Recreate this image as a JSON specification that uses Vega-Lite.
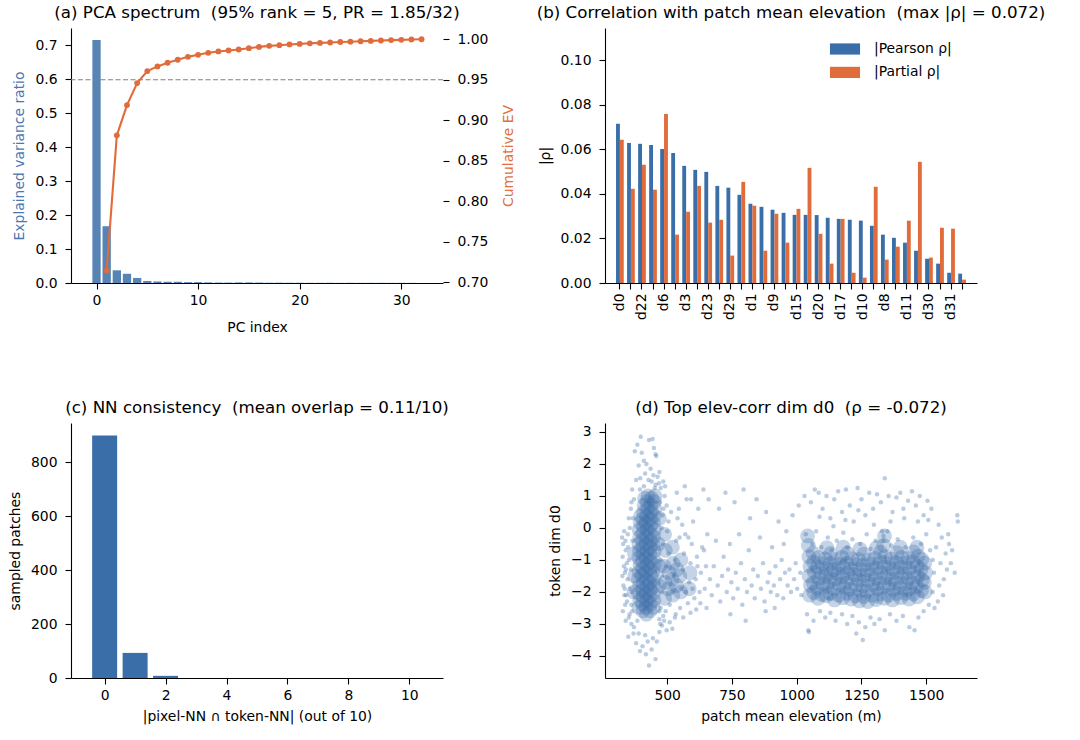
{
  "$schema": "https://vega.github.io/schema/vega-lite/v6.json",
  "background": "white",
  "padding": {"left": 8, "top": 5, "right": 5, "bottom": 5},
  "config": {
    "font": "DejaVu Sans",
    "view": {"stroke": null},
    "axis": {"domainColor": "#000", "domainWidth": 1.1, "tickColor": "#000", "tickWidth": 1.1, "tickSize": 6, "labelPadding": 4, "labelFont": "DejaVu Sans", "labelFontSize": 13.9, "labelColor": "#000", "titleFont": "DejaVu Sans", "titleFontSize": 13.9, "titleFontWeight": "normal", "titleColor": "#000", "grid": false, "titlePadding": 8, "labelFlush": false, "labelOverlap": false},
    "axisY": {"labelPadding": 8},
    "title": {"font": "DejaVu Sans", "fontSize": 16.7, "fontWeight": "normal", "color": "#000", "anchor": "middle", "frame": "group", "baseline": "alphabetic", "offset": 6},
    "legend": {"labelFont": "DejaVu Sans", "labelFontSize": 13.9, "labelColor": "#000"}
  },
  "datasets": {
    "pca_evr": [
      {"pc": 0, "evr": 0.7146}, {"pc": 1, "evr": 0.167}, {"pc": 2, "evr": 0.0373}, {"pc": 3, "evr": 0.0271},
      {"pc": 4, "evr": 0.0148}, {"pc": 5, "evr": 0.0058}, {"pc": 6, "evr": 0.0045}, {"pc": 7, "evr": 0.0037},
      {"pc": 8, "evr": 0.0036}, {"pc": 9, "evr": 0.0025}, {"pc": 10, "evr": 0.0025}, {"pc": 11, "evr": 0.0017},
      {"pc": 12, "evr": 0.0012}, {"pc": 13, "evr": 0.0012}, {"pc": 14, "evr": 0.0016}, {"pc": 15, "evr": 0.0016},
      {"pc": 16, "evr": 0.0013}, {"pc": 17, "evr": 0.0008}, {"pc": 18, "evr": 0.0009}, {"pc": 19, "evr": 0.0007},
      {"pc": 20, "evr": 0.0007}, {"pc": 21, "evr": 0.0005}, {"pc": 22, "evr": 0.0005}, {"pc": 23, "evr": 0.0006},
      {"pc": 24, "evr": 0.0004}, {"pc": 25, "evr": 0.0006}, {"pc": 26, "evr": 0.0004}, {"pc": 27, "evr": 0.0005},
      {"pc": 28, "evr": 0.0005}, {"pc": 29, "evr": 0.0003}, {"pc": 30, "evr": 0.0004}, {"pc": 31, "evr": 0.0003}
    ],
    "pca_cum": [
      {"pc": 1, "cum": 0.7146}, {"pc": 2, "cum": 0.8815}, {"pc": 3, "cum": 0.9188}, {"pc": 4, "cum": 0.9459},
      {"pc": 5, "cum": 0.9607}, {"pc": 6, "cum": 0.9665}, {"pc": 7, "cum": 0.971}, {"pc": 8, "cum": 0.9747},
      {"pc": 9, "cum": 0.9783}, {"pc": 10, "cum": 0.9808}, {"pc": 11, "cum": 0.9833}, {"pc": 12, "cum": 0.985},
      {"pc": 13, "cum": 0.9862}, {"pc": 14, "cum": 0.9874}, {"pc": 15, "cum": 0.989}, {"pc": 16, "cum": 0.9906},
      {"pc": 17, "cum": 0.9919}, {"pc": 18, "cum": 0.9927}, {"pc": 19, "cum": 0.9936}, {"pc": 20, "cum": 0.9943},
      {"pc": 21, "cum": 0.995}, {"pc": 22, "cum": 0.9955}, {"pc": 23, "cum": 0.996}, {"pc": 24, "cum": 0.9966},
      {"pc": 25, "cum": 0.997}, {"pc": 26, "cum": 0.9976}, {"pc": 27, "cum": 0.998}, {"pc": 28, "cum": 0.9985},
      {"pc": 29, "cum": 0.999}, {"pc": 30, "cum": 0.9993}, {"pc": 31, "cum": 0.9997}, {"pc": 32, "cum": 1.0}
    ],
    "corr": [
      {"dim": "d0", "kind": "|Pearson ρ|", "rho": 0.0715}, {"dim": "d0", "kind": "|Partial ρ|", "rho": 0.0643},
      {"dim": "d2", "kind": "|Pearson ρ|", "rho": 0.0629}, {"dim": "d2", "kind": "|Partial ρ|", "rho": 0.0423},
      {"dim": "d22", "kind": "|Pearson ρ|", "rho": 0.0625}, {"dim": "d22", "kind": "|Partial ρ|", "rho": 0.0531},
      {"dim": "d4", "kind": "|Pearson ρ|", "rho": 0.062}, {"dim": "d4", "kind": "|Partial ρ|", "rho": 0.0419},
      {"dim": "d6", "kind": "|Pearson ρ|", "rho": 0.0602}, {"dim": "d6", "kind": "|Partial ρ|", "rho": 0.0759},
      {"dim": "d5", "kind": "|Pearson ρ|", "rho": 0.0584}, {"dim": "d5", "kind": "|Partial ρ|", "rho": 0.0217},
      {"dim": "d3", "kind": "|Pearson ρ|", "rho": 0.0526}, {"dim": "d3", "kind": "|Partial ρ|", "rho": 0.032},
      {"dim": "d7", "kind": "|Pearson ρ|", "rho": 0.0508}, {"dim": "d7", "kind": "|Partial ρ|", "rho": 0.0436},
      {"dim": "d23", "kind": "|Pearson ρ|", "rho": 0.0499}, {"dim": "d23", "kind": "|Partial ρ|", "rho": 0.0271},
      {"dim": "d12", "kind": "|Pearson ρ|", "rho": 0.0436}, {"dim": "d12", "kind": "|Partial ρ|", "rho": 0.0284},
      {"dim": "d29", "kind": "|Pearson ρ|", "rho": 0.0428}, {"dim": "d29", "kind": "|Partial ρ|", "rho": 0.0123},
      {"dim": "d13", "kind": "|Pearson ρ|", "rho": 0.0396}, {"dim": "d13", "kind": "|Partial ρ|", "rho": 0.0454},
      {"dim": "d1", "kind": "|Pearson ρ|", "rho": 0.0356}, {"dim": "d1", "kind": "|Partial ρ|", "rho": 0.0347},
      {"dim": "d14", "kind": "|Pearson ρ|", "rho": 0.0342}, {"dim": "d14", "kind": "|Partial ρ|", "rho": 0.0145},
      {"dim": "d9", "kind": "|Pearson ρ|", "rho": 0.0329}, {"dim": "d9", "kind": "|Partial ρ|", "rho": 0.0311},
      {"dim": "d16", "kind": "|Pearson ρ|", "rho": 0.0315}, {"dim": "d16", "kind": "|Partial ρ|", "rho": 0.0181},
      {"dim": "d15", "kind": "|Pearson ρ|", "rho": 0.0306}, {"dim": "d15", "kind": "|Partial ρ|", "rho": 0.0333},
      {"dim": "d18", "kind": "|Pearson ρ|", "rho": 0.0306}, {"dim": "d18", "kind": "|Partial ρ|", "rho": 0.0517},
      {"dim": "d20", "kind": "|Pearson ρ|", "rho": 0.0305}, {"dim": "d20", "kind": "|Partial ρ|", "rho": 0.0221},
      {"dim": "d19", "kind": "|Pearson ρ|", "rho": 0.0293}, {"dim": "d19", "kind": "|Partial ρ|", "rho": 0.0087},
      {"dim": "d17", "kind": "|Pearson ρ|", "rho": 0.0288}, {"dim": "d17", "kind": "|Partial ρ|", "rho": 0.0288},
      {"dim": "d21", "kind": "|Pearson ρ|", "rho": 0.0284}, {"dim": "d21", "kind": "|Partial ρ|", "rho": 0.0046},
      {"dim": "d10", "kind": "|Pearson ρ|", "rho": 0.028}, {"dim": "d10", "kind": "|Partial ρ|", "rho": 0.0024},
      {"dim": "d24", "kind": "|Pearson ρ|", "rho": 0.0257}, {"dim": "d24", "kind": "|Partial ρ|", "rho": 0.0432},
      {"dim": "d8", "kind": "|Pearson ρ|", "rho": 0.0217}, {"dim": "d8", "kind": "|Partial ρ|", "rho": 0.0105},
      {"dim": "d25", "kind": "|Pearson ρ|", "rho": 0.0203}, {"dim": "d25", "kind": "|Partial ρ|", "rho": 0.0163},
      {"dim": "d11", "kind": "|Pearson ρ|", "rho": 0.0181}, {"dim": "d11", "kind": "|Partial ρ|", "rho": 0.028},
      {"dim": "d26", "kind": "|Pearson ρ|", "rho": 0.0145}, {"dim": "d26", "kind": "|Partial ρ|", "rho": 0.0544},
      {"dim": "d30", "kind": "|Pearson ρ|", "rho": 0.0109}, {"dim": "d30", "kind": "|Partial ρ|", "rho": 0.0114},
      {"dim": "d27", "kind": "|Pearson ρ|", "rho": 0.0087}, {"dim": "d27", "kind": "|Partial ρ|", "rho": 0.0248},
      {"dim": "d31", "kind": "|Pearson ρ|", "rho": 0.0046}, {"dim": "d31", "kind": "|Partial ρ|", "rho": 0.0244},
      {"dim": "d28", "kind": "|Pearson ρ|", "rho": 0.0042}, {"dim": "d28", "kind": "|Partial ρ|", "rho": 0.0015}
    ],
    "nn": [
      {"k": 0, "n": 899}, {"k": 1, "n": 93}, {"k": 2, "n": 8}, {"k": 3, "n": 0}, {"k": 4, "n": 0}, {"k": 5, "n": 0},
      {"k": 6, "n": 0}, {"k": 7, "n": 0}, {"k": 8, "n": 0}, {"k": 9, "n": 0}, {"k": 10, "n": 0}
    ],
    "elev_dense": [
      {"elev":391,"d0":-2.48},{"elev":394,"d0":-2.26},{"elev":390,"d0":-2.04},{"elev":393,"d0":-1.82},{"elev":389,"d0":-1.6},{"elev":392,"d0":-1.38},{"elev":395,"d0":-1.16},{"elev":390,"d0":-0.94},{"elev":393,"d0":-0.72},{"elev":391,"d0":-0.5},{"elev":394,"d0":-0.28},{"elev":392,"d0":-0.06},{"elev":396,"d0":0.16},{"elev":398,"d0":0.38},
      {"elev":420,"d0":-2.7},{"elev":418,"d0":-2.48},{"elev":421,"d0":-2.26},{"elev":419,"d0":-2.04},{"elev":422,"d0":-1.82},{"elev":420,"d0":-1.6},{"elev":417,"d0":-1.38},{"elev":421,"d0":-1.16},{"elev":419,"d0":-0.94},{"elev":422,"d0":-0.72},{"elev":418,"d0":-0.5},{"elev":420,"d0":-0.28},{"elev":423,"d0":-0.06},{"elev":419,"d0":0.16},{"elev":421,"d0":0.38},{"elev":424,"d0":0.6},{"elev":422,"d0":0.82},{"elev":426,"d0":1.0},
      {"elev":447,"d0":-2.48},{"elev":449,"d0":-2.26},{"elev":446,"d0":-2.04},{"elev":450,"d0":-1.82},{"elev":448,"d0":-1.6},{"elev":445,"d0":-1.38},{"elev":449,"d0":-1.16},{"elev":447,"d0":-0.94},{"elev":450,"d0":-0.72},{"elev":446,"d0":-0.5},{"elev":448,"d0":-0.28},{"elev":451,"d0":-0.06},{"elev":447,"d0":0.16},{"elev":449,"d0":0.38},{"elev":452,"d0":0.6},{"elev":450,"d0":0.82},{"elev":453,"d0":1.0},
      {"elev":406,"d0":-2.59},{"elev":404,"d0":-2.37},{"elev":407,"d0":-2.15},{"elev":405,"d0":-1.93},{"elev":408,"d0":-1.71},{"elev":403,"d0":-1.49},{"elev":406,"d0":-1.27},{"elev":404,"d0":-1.05},{"elev":407,"d0":-0.83},{"elev":405,"d0":-0.61},{"elev":403,"d0":-0.39},{"elev":406,"d0":-0.17},{"elev":408,"d0":0.05},{"elev":405,"d0":0.27},{"elev":409,"d0":0.49},{"elev":411,"d0":0.71},{"elev":413,"d0":0.93},
      {"elev":434,"d0":-2.59},{"elev":436,"d0":-2.37},{"elev":433,"d0":-2.15},{"elev":435,"d0":-1.93},{"elev":432,"d0":-1.71},{"elev":437,"d0":-1.49},{"elev":434,"d0":-1.27},{"elev":436,"d0":-1.05},{"elev":433,"d0":-0.83},{"elev":435,"d0":-0.61},{"elev":437,"d0":-0.39},{"elev":434,"d0":-0.17},{"elev":436,"d0":0.05},{"elev":435,"d0":0.27},{"elev":438,"d0":0.49},{"elev":437,"d0":0.71},{"elev":440,"d0":0.93},
      {"elev":372,"d0":-2.0},{"elev":375,"d0":-1.5},{"elev":374,"d0":-0.8},{"elev":468,"d0":-1.8},{"elev":470,"d0":-1.2},{"elev":466,"d0":-0.5},{"elev":470,"d0":0.3},
      {"elev":490,"d0":-2.2},{"elev":492,"d0":-1.7},{"elev":489,"d0":-1.2},{"elev":493,"d0":-0.7},{"elev":490,"d0":-0.2},
      {"elev":522,"d0":-2.1},{"elev":519,"d0":-1.6},{"elev":523,"d0":-1.1},{"elev":520,"d0":-0.6},
      {"elev":552,"d0":-2.0},{"elev":549,"d0":-1.5},{"elev":553,"d0":-1.0},
      {"elev":585,"d0":-1.9},{"elev":588,"d0":-1.4},{"elev":505,"d0":-1.9},{"elev":507,"d0":-1.4},{"elev":536,"d0":-1.8},{"elev":538,"d0":-1.3},
      {"elev":1050,"d0":-2.1},{"elev":1053,"d0":-1.8},{"elev":1048,"d0":-1.5},{"elev":1051,"d0":-1.2},{"elev":1047,"d0":-0.9},{"elev":1045,"d0":-0.55},{"elev":1042,"d0":-0.25},
      {"elev":1082,"d0":-2.2},{"elev":1079,"d0":-1.88},{"elev":1084,"d0":-1.57},{"elev":1080,"d0":-1.22},{"elev":1083,"d0":-0.93},
      {"elev":1114,"d0":-2.12},{"elev":1117,"d0":-1.83},{"elev":1112,"d0":-1.52},{"elev":1115,"d0":-1.27},{"elev":1111,"d0":-0.97},{"elev":1116,"d0":-0.62},
      {"elev":1146,"d0":-2.25},{"elev":1143,"d0":-1.9},{"elev":1148,"d0":-1.6},{"elev":1145,"d0":-1.3},{"elev":1149,"d0":-0.98},
      {"elev":1178,"d0":-2.18},{"elev":1181,"d0":-1.86},{"elev":1176,"d0":-1.53},{"elev":1179,"d0":-1.24},{"elev":1175,"d0":-0.92},{"elev":1180,"d0":-0.6},
      {"elev":1210,"d0":-2.22},{"elev":1207,"d0":-1.92},{"elev":1212,"d0":-1.58},{"elev":1209,"d0":-1.28},{"elev":1213,"d0":-0.96},
      {"elev":1242,"d0":-2.28},{"elev":1245,"d0":-1.95},{"elev":1240,"d0":-1.62},{"elev":1243,"d0":-1.3},{"elev":1239,"d0":-0.99},{"elev":1244,"d0":-0.66},
      {"elev":1274,"d0":-2.3},{"elev":1271,"d0":-1.97},{"elev":1276,"d0":-1.64},{"elev":1273,"d0":-1.32},{"elev":1277,"d0":-1.0},
      {"elev":1306,"d0":-2.24},{"elev":1309,"d0":-1.9},{"elev":1304,"d0":-1.58},{"elev":1307,"d0":-1.26},{"elev":1303,"d0":-0.95},{"elev":1308,"d0":-0.62},
      {"elev":1338,"d0":-2.2},{"elev":1335,"d0":-1.86},{"elev":1340,"d0":-1.55},{"elev":1337,"d0":-1.22},{"elev":1341,"d0":-0.9},{"elev":1336,"d0":-0.55},{"elev":1339,"d0":-0.25},
      {"elev":1370,"d0":-2.25},{"elev":1373,"d0":-1.92},{"elev":1368,"d0":-1.6},{"elev":1371,"d0":-1.28},{"elev":1367,"d0":-0.97},
      {"elev":1402,"d0":-2.18},{"elev":1399,"d0":-1.87},{"elev":1404,"d0":-1.54},{"elev":1401,"d0":-1.23},{"elev":1405,"d0":-0.92},{"elev":1400,"d0":-0.6},
      {"elev":1434,"d0":-2.22},{"elev":1437,"d0":-1.9},{"elev":1432,"d0":-1.58},{"elev":1435,"d0":-1.26},{"elev":1431,"d0":-0.95},
      {"elev":1466,"d0":-2.15},{"elev":1463,"d0":-1.84},{"elev":1468,"d0":-1.52},{"elev":1465,"d0":-1.2},{"elev":1469,"d0":-0.88},{"elev":1464,"d0":-0.6},
      {"elev":1496,"d0":-2.0},{"elev":1493,"d0":-1.7},{"elev":1497,"d0":-1.4},{"elev":1494,"d0":-1.1},
      {"elev":1066,"d0":-2.02},{"elev":1064,"d0":-1.71},{"elev":1068,"d0":-1.38},{"elev":1065,"d0":-1.07},{"elev":1063,"d0":-0.78},
      {"elev":1098,"d0":-2.08},{"elev":1101,"d0":-1.74},{"elev":1096,"d0":-1.42},{"elev":1099,"d0":-1.12},
      {"elev":1130,"d0":-2.05},{"elev":1128,"d0":-1.69},{"elev":1132,"d0":-1.4},{"elev":1129,"d0":-1.1},{"elev":1131,"d0":-0.8},
      {"elev":1162,"d0":-2.1},{"elev":1165,"d0":-1.76},{"elev":1160,"d0":-1.44},{"elev":1163,"d0":-1.14},
      {"elev":1194,"d0":-2.04},{"elev":1192,"d0":-1.72},{"elev":1196,"d0":-1.41},{"elev":1193,"d0":-1.1},{"elev":1195,"d0":-0.79},
      {"elev":1226,"d0":-2.12},{"elev":1229,"d0":-1.78},{"elev":1224,"d0":-1.46},{"elev":1227,"d0":-1.15},
      {"elev":1258,"d0":-2.14},{"elev":1256,"d0":-1.8},{"elev":1260,"d0":-1.48},{"elev":1257,"d0":-1.16},{"elev":1259,"d0":-0.82},
      {"elev":1290,"d0":-2.1},{"elev":1293,"d0":-1.77},{"elev":1288,"d0":-1.45},{"elev":1291,"d0":-1.13},
      {"elev":1322,"d0":-2.06},{"elev":1320,"d0":-1.73},{"elev":1324,"d0":-1.4},{"elev":1321,"d0":-1.08},{"elev":1323,"d0":-0.76},
      {"elev":1354,"d0":-2.1},{"elev":1357,"d0":-1.76},{"elev":1352,"d0":-1.43},{"elev":1355,"d0":-1.12},
      {"elev":1386,"d0":-2.05},{"elev":1384,"d0":-1.72},{"elev":1388,"d0":-1.39},{"elev":1385,"d0":-1.08},{"elev":1387,"d0":-0.77},
      {"elev":1418,"d0":-2.04},{"elev":1421,"d0":-1.74},{"elev":1416,"d0":-1.42},{"elev":1419,"d0":-1.1},
      {"elev":1450,"d0":-2.06},{"elev":1448,"d0":-1.72},{"elev":1452,"d0":-1.4},{"elev":1449,"d0":-1.06},{"elev":1451,"d0":-0.75},
      {"elev":1482,"d0":-1.95},{"elev":1485,"d0":-1.62},{"elev":1480,"d0":-1.3},{"elev":1483,"d0":-0.98}
    ],
    "elev_sparse": [
      {"elev":398,"d0":2.85},{"elev":430,"d0":2.75},{"elev":444,"d0":2.78},{"elev":385,"d0":2.6},{"elev":449,"d0":2.5},{"elev":455,"d0":2.3},{"elev":458,"d0":2.25},{"elev":402,"d0":2.35},{"elev":410,"d0":2.1},{"elev":375,"d0":2.4},{"elev":390,"d0":1.95},{"elev":420,"d0":2.0},{"elev":436,"d0":1.85},{"elev":470,"d0":1.75},{"elev":463,"d0":1.6},{"elev":415,"d0":1.7},{"elev":380,"d0":1.5},{"elev":396,"d0":1.55},{"elev":447,"d0":1.65},{"elev":485,"d0":1.45},{"elev":492,"d0":1.3},{"elev":365,"d0":1.2},{"elev":372,"d0":0.9},{"elev":360,"d0":0.6},{"elev":352,"d0":0.3},{"elev":490,"d0":1.0},{"elev":498,"d0":0.7},{"elev":482,"d0":0.4},{"elev":505,"d0":0.2},{"elev":475,"d0":1.25},{"elev":468,"d0":1.4},{"elev":440,"d0":1.45},{"elev":428,"d0":1.5},{"elev":455,"d0":1.35},
      {"elev":430,"d0":-4.3},{"elev":455,"d0":-4.1},{"elev":418,"d0":-3.95},{"elev":395,"d0":-3.85},{"elev":440,"d0":-3.8},{"elev":405,"d0":-3.7},{"elev":380,"d0":-3.6},{"elev":460,"d0":-3.55},{"elev":350,"d0":-3.4},{"elev":370,"d0":-3.3},{"elev":445,"d0":-3.45},{"elev":425,"d0":-3.55},{"elev":415,"d0":-3.35},{"elev":470,"d0":-3.25},{"elev":390,"d0":-3.3},{"elev":480,"d0":-3.05},{"elev":498,"d0":-3.2},{"elev":520,"d0":-3.15},{"elev":510,"d0":-2.95},{"elev":362,"d0":-3.0},{"elev":340,"d0":-2.9},{"elev":355,"d0":-2.7},{"elev":485,"d0":-2.75},{"elev":470,"d0":-2.85},{"elev":530,"d0":-2.8},
      {"elev":326,"d0":-0.3},{"elev":330,"d0":-0.5},{"elev":328,"d0":-0.9},{"elev":333,"d0":-1.2},{"elev":327,"d0":-1.5},{"elev":331,"d0":-1.8},{"elev":335,"d0":-2.1},{"elev":338,"d0":-2.4},{"elev":329,"d0":-2.6},{"elev":334,"d0":-0.1},{"elev":340,"d0":-0.7},{"elev":337,"d0":-1.4},{"elev":345,"d0":-2.3},{"elev":352,"d0":-2.8},{"elev":348,"d0":-0.2},{"elev":356,"d0":0.0},{"elev":352,"d0":-1.0},{"elev":358,"d0":-1.9},{"elev":362,"d0":-2.4},{"elev":366,"d0":-0.4},{"elev":360,"d0":-1.3},{"elev":364,"d0":-2.0},{"elev":368,"d0":0.3},
      {"elev":342,"d0":-2.1},{"elev":347,"d0":-1.6},{"elev":344,"d0":-1.1},{"elev":349,"d0":-0.6},{"elev":336,"d0":-1.9},{"elev":341,"d0":-1.3},{"elev":339,"d0":-0.4},
      {"elev":475,"d0":-2.5},{"elev":478,"d0":-2.0},{"elev":480,"d0":-1.5},{"elev":476,"d0":-1.0},{"elev":483,"d0":-0.5},{"elev":479,"d0":0.0},{"elev":486,"d0":0.6},{"elev":472,"d0":0.8},{"elev":494,"d0":-2.6},{"elev":496,"d0":-1.2},{"elev":500,"d0":-0.1},{"elev":473,"d0":-3.0},{"elev":488,"d0":-2.9},
      {"elev":385,"d0":-2.9},{"elev":395,"d0":1.2},{"elev":410,"d0":1.3},{"elev":452,"d0":1.25},{"elev":365,"d0":-2.6},{"elev":470,"d0":-2.6},{"elev":362,"d0":0.8},{"elev":372,"d0":-3.1},
      {"elev":510,"d0":-2.4},{"elev":520,"d0":-2.0},{"elev":525,"d0":-1.5},{"elev":530,"d0":-1.0},{"elev":535,"d0":-0.4},{"elev":540,"d0":0.3},{"elev":545,"d0":0.6},{"elev":550,"d0":-2.5},{"elev":555,"d0":-1.9},{"elev":560,"d0":-1.3},{"elev":565,"d0":-0.8},{"elev":570,"d0":-0.2},{"elev":575,"d0":0.9},{"elev":580,"d0":-2.35},{"elev":585,"d0":-1.7},{"elev":590,"d0":-1.1},{"elev":595,"d0":-0.5},{"elev":600,"d0":0.2},{"elev":605,"d0":-2.2},{"elev":610,"d0":-1.6},{"elev":615,"d0":-0.9},{"elev":620,"d0":0.6},{"elev":625,"d0":-2.0},{"elev":630,"d0":-1.4},{"elev":635,"d0":-0.6},{"elev":640,"d0":1.2},{"elev":645,"d0":-1.9},{"elev":650,"d0":-1.2},{"elev":655,"d0":-0.2},{"elev":660,"d0":0.9},{"elev":533,"d0":-2.7},{"elev":562,"d0":-2.8},{"elev":590,"d0":-2.65},{"elev":612,"d0":-2.55},{"elev":505,"d0":-0.8},{"elev":515,"d0":0.5},{"elev":548,"d0":-0.3},{"elev":572,"d0":-2.0},{"elev":598,"d0":-1.9},{"elev":628,"d0":-2.35},{"elev":652,"d0":-2.5},{"elev":537,"d0":1.1},{"elev":568,"d0":1.3},{"elev":592,"d0":0.9},{"elev":558,"d0":0.1},{"elev":582,"d0":-0.3},{"elev":617,"d0":-1.2},{"elev":642,"d0":-0.7},
      {"elev":665,"d0":-1.6},{"elev":672,"d0":-2.1},{"elev":680,"d0":-1.2},{"elev":688,"d0":-0.4},{"elev":695,"d0":-1.8},{"elev":700,"d0":0.6},{"elev":705,"d0":-2.3},{"elev":712,"d0":-1.5},{"elev":718,"d0":-0.9},{"elev":725,"d0":1.1},{"elev":730,"d0":-2.0},{"elev":735,"d0":-1.3},{"elev":742,"d0":-0.5},{"elev":748,"d0":-1.7},{"elev":755,"d0":-2.2},{"elev":760,"d0":0.8},{"elev":765,"d0":-1.4},{"elev":772,"d0":-1.9},{"elev":778,"d0":-0.2},{"elev":785,"d0":-1.1},{"elev":790,"d0":-2.4},{"elev":795,"d0":1.2},{"elev":800,"d0":-1.6},{"elev":808,"d0":-2.0},{"elev":815,"d0":-0.7},{"elev":820,"d0":0.3},{"elev":826,"d0":-1.8},{"elev":832,"d0":-1.3},{"elev":838,"d0":-2.2},{"elev":845,"d0":0.9},{"elev":850,"d0":-1.5},{"elev":858,"d0":-0.3},{"elev":862,"d0":-1.9},{"elev":870,"d0":-1.1},{"elev":876,"d0":-2.3},{"elev":882,"d0":0.5},{"elev":888,"d0":-1.7},{"elev":895,"d0":-1.4},{"elev":900,"d0":-2.0},{"elev":905,"d0":-0.6},{"elev":912,"d0":-1.8},{"elev":918,"d0":-1.2},{"elev":925,"d0":-2.1},{"elev":930,"d0":0.2},{"elev":936,"d0":-1.6},{"elev":942,"d0":-1.0},{"elev":948,"d0":-2.2},{"elev":955,"d0":-1.4},{"elev":960,"d0":-0.1},{"elev":965,"d0":-1.8},{"elev":972,"d0":-1.3},{"elev":978,"d0":-2.0},{"elev":984,"d0":0.4},{"elev":990,"d0":-1.6},{"elev":996,"d0":-1.1},{"elev":1002,"d0":-1.9},{"elev":1008,"d0":0.7},{"elev":1014,"d0":-1.4},{"elev":1018,"d0":-2.1},{"elev":744,"d0":-2.7},{"elev":880,"d0":-2.6},{"elev":915,"d0":-2.5},{"elev":803,"d0":-2.9},{"elev":950,"d0":-0.5},
      {"elev":1030,"d0":1.0},{"elev":1055,"d0":0.8},{"elev":1070,"d0":1.2},{"elev":1085,"d0":1.1},{"elev":1100,"d0":0.6},{"elev":1115,"d0":1.0},{"elev":1130,"d0":0.3},{"elev":1145,"d0":0.9},{"elev":1160,"d0":1.15},{"elev":1175,"d0":0.5},{"elev":1190,"d0":1.2},{"elev":1205,"d0":0.7},{"elev":1220,"d0":0.2},{"elev":1235,"d0":1.25},{"elev":1250,"d0":0.9},{"elev":1265,"d0":0.4},{"elev":1280,"d0":1.1},{"elev":1295,"d0":0.6},{"elev":1310,"d0":1.05},{"elev":1325,"d0":0.8},{"elev":1340,"d0":1.55},{"elev":1355,"d0":1.0},{"elev":1370,"d0":0.5},{"elev":1385,"d0":0.95},{"elev":1400,"d0":1.1},{"elev":1415,"d0":0.3},{"elev":1430,"d0":0.85},{"elev":1445,"d0":1.15},{"elev":1460,"d0":0.7},{"elev":1475,"d0":1.0},{"elev":1490,"d0":0.4},{"elev":1505,"d0":0.85},{"elev":1520,"d0":0.6},{"elev":1362,"d0":0.2},{"elev":1298,"d0":0.1},{"elev":1142,"d0":0.05},{"elev":1088,"d0":0.35},{"elev":1188,"d0":0.25},{"elev":1238,"d0":0.55},{"elev":1412,"d0":0.6},{"elev":1468,"d0":0.2},{"elev":1330,"d0":-0.1},{"elev":1508,"d0":0.25},
      {"elev":1035,"d0":-0.2},{"elev":1060,"d0":-0.5},{"elev":1075,"d0":-0.1},{"elev":1095,"d0":-0.6},{"elev":1120,"d0":-0.3},{"elev":1135,"d0":-0.7},{"elev":1155,"d0":-0.4},{"elev":1180,"d0":-0.15},{"elev":1195,"d0":-0.6},{"elev":1215,"d0":-0.35},{"elev":1245,"d0":-0.5},{"elev":1270,"d0":-0.2},{"elev":1285,"d0":-0.65},{"elev":1305,"d0":-0.4},{"elev":1335,"d0":-0.25},{"elev":1350,"d0":-0.1},{"elev":1365,"d0":-0.55},{"elev":1390,"d0":-0.35},{"elev":1420,"d0":-0.6},{"elev":1450,"d0":-0.3},{"elev":1480,"d0":-0.5},{"elev":1500,"d0":-0.2},{"elev":1515,"d0":-0.7},{"elev":1525,"d0":-1.0},
      {"elev":1040,"d0":-2.7},{"elev":1065,"d0":-2.9},{"elev":1090,"d0":-2.6},{"elev":1110,"d0":-2.8},{"elev":1130,"d0":-2.65},{"elev":1150,"d0":-2.9},{"elev":1175,"d0":-2.7},{"elev":1195,"d0":-3.0},{"elev":1215,"d0":-2.75},{"elev":1240,"d0":-2.95},{"elev":1255,"d0":-3.5},{"elev":1265,"d0":-3.1},{"elev":1285,"d0":-2.8},{"elev":1300,"d0":-3.0},{"elev":1320,"d0":-2.85},{"elev":1340,"d0":-3.2},{"elev":1360,"d0":-2.7},{"elev":1385,"d0":-2.9},{"elev":1410,"d0":-2.75},{"elev":1435,"d0":-3.1},{"elev":1455,"d0":-3.2},{"elev":1470,"d0":-2.8},{"elev":1490,"d0":-2.6},{"elev":1510,"d0":-2.4},{"elev":1045,"d0":-3.2},{"elev":1047,"d0":-3.25},{"elev":1230,"d0":-3.3},
      {"elev":1060,"d0":-1.3},{"elev":1125,"d0":-2.2},{"elev":1185,"d0":-1.0},{"elev":1250,"d0":-1.5},{"elev":1310,"d0":-2.3},{"elev":1360,"d0":-1.7},{"elev":1420,"d0":-2.1},{"elev":1480,"d0":-1.6},{"elev":1335,"d0":-0.4},{"elev":1340,"d0":-0.9},
      {"elev":1525,"d0":-2.0},{"elev":1530,"d0":-1.4},{"elev":1538,"d0":-0.6},{"elev":1545,"d0":-2.3},{"elev":1550,"d0":-1.8},{"elev":1555,"d0":-1.1},{"elev":1560,"d0":-0.3},{"elev":1568,"d0":-1.6},{"elev":1575,"d0":-0.8},{"elev":1580,"d0":-1.3},{"elev":1588,"d0":-0.5},{"elev":1595,"d0":-1.1},{"elev":1600,"d0":-0.7},{"elev":1610,"d0":-1.4},{"elev":1620,"d0":0.4},{"elev":1622,"d0":0.2},{"elev":1532,"d0":-2.5},{"elev":1548,"d0":0.1},{"elev":1565,"d0":-2.1},{"elev":1585,"d0":-0.2}
    ]
  },
  "columns": 2,
  "bounds": "flush",
  "spacing": {"row": 140, "column": 162},
  "resolve": {"legend": {"color": "independent"}},
  "concat": [
    {
      "title": {"text": "(a) PCA spectrum\u00a0 (95% rank = 5, PR = 1.85/32)"},
      "width": 372,
      "height": 255,
      "layer": [
        {
          "data": {"name": "pca_evr"},
          "mark": {"type": "bar", "size": 8.3, "color": "#3a6ea8", "opacity": 0.85},
          "encoding": {
            "x": {"field": "pc", "type": "quantitative", "scale": {"domain": [-2.02, 33.62], "nice": false, "zero": false}, "axis": {"values": [0, 10, 20, 30], "title": "PC index", "titlePadding": 14}},
            "y": {"field": "evr", "type": "quantitative", "scale": {"domain": [0, 0.75], "nice": false}, "axis": {"values": [0, 0.1, 0.2, 0.3, 0.4, 0.5, 0.6, 0.7], "format": ".1f", "title": "Explained variance ratio", "titleColor": "#4a78b0"}}
          }
        },
        {
          "encoding": {
            "y": {"field": "cum", "type": "quantitative", "scale": {"domain": [0.6993, 1.0139], "nice": false, "zero": false}, "axis": {"orient": "right", "values": [0.7, 0.75, 0.8, 0.85, 0.9, 0.95, 1.0], "format": ".2f", "title": "Cumulative EV", "titleColor": "#e07040", "titleAngle": -90, "titleBaseline": "top", "titlePadding": 14, "domain": false}}
          },
          "layer": [
            {
              "data": {"values": [{"cum": 0.95}]},
              "mark": {"type": "rule", "color": "#808080", "strokeDash": [5, 2.5], "strokeWidth": 1.1},
              "encoding": {}
            },
            {
              "data": {"name": "pca_cum"},
              "mark": {"type": "line", "color": "#e06c3c", "strokeWidth": 2.1, "point": {"filled": true, "size": 34, "color": "#e06c3c"}},
              "encoding": {"x": {"field": "pc", "type": "quantitative"}}
            }
          ]
        }
      ],
      "resolve": {"scale": {"y": "independent"}}
    },
    {
      "title": {"text": "(b) Correlation with patch mean elevation\u00a0 (max |ρ| = 0.072)"},
      "width": 372,
      "height": 255,
      "data": {"name": "corr"},
      "mark": {"type": "bar"},
      "encoding": {
        "x": {"field": "dim", "type": "nominal", "sort": null, "scale": {"paddingInner": 0.3, "paddingOuter": 1.585}, "axis": {"title": null, "labelAngle": -90, "labelExpr": "indexof(['d0','d22','d6','d3','d23','d29','d1','d9','d15','d20','d17','d10','d8','d11','d30','d31'], datum.value) >= 0 ? datum.value : ''"}},
        "xOffset": {"field": "kind", "type": "nominal", "sort": ["|Pearson ρ|", "|Partial ρ|"], "scale": {"paddingInner": 0, "paddingOuter": 0}},
        "y": {"field": "rho", "type": "quantitative", "scale": {"domain": [0, 0.1145], "nice": false}, "axis": {"values": [0, 0.02, 0.04, 0.06, 0.08, 0.1], "format": ".2f", "title": "|ρ|"}},
        "color": {"field": "kind", "type": "nominal", "scale": {"domain": ["|Pearson ρ|", "|Partial ρ|"], "range": ["#3a6ea8", "#e06c3c"]}, "legend": {"title": null, "orient": "none", "legendX": 233, "legendY": 14, "symbolType": "M-2.15,-0.8H2.15V0.8H-2.15Z", "symbolSize": 196, "symbolStrokeWidth": 0, "labelOffset": 22, "rowPadding": 9.4, "padding": 0}}
      }
    },
    {
      "title": {"text": "(c) NN consistency\u00a0 (mean overlap = 0.11/10)"},
      "width": 372,
      "height": 255,
      "data": {"name": "nn"},
      "mark": {"type": "bar", "size": 25, "color": "#3a6ea8"},
      "encoding": {
        "x": {"field": "k", "type": "quantitative", "scale": {"domain": [-0.94, 10.94], "nice": false, "zero": false}, "axis": {"values": [0, 2, 4, 6, 8, 10], "title": "|pixel-NN ∩ token-NN| (out of 10)"}},
        "y": {"field": "n", "type": "quantitative", "scale": {"domain": [0, 945], "nice": false}, "axis": {"values": [0, 200, 400, 600, 800], "title": "sampled patches"}}
      }
    },
    {
      "title": {"text": "(d) Top elev-corr dim d0\u00a0 (ρ = -0.072)"},
      "width": 372,
      "height": 255,
      "encoding": {
        "x": {"field": "elev", "type": "quantitative", "scale": {"domain": [260, 1696], "nice": false, "zero": false}, "axis": {"values": [500, 750, 1000, 1250, 1500], "format": "d", "title": "patch mean elevation (m)"}},
        "y": {"field": "d0", "type": "quantitative", "scale": {"domain": [-4.69, 3.28], "nice": false, "zero": false}, "axis": {"values": [-4, -3, -2, -1, 0, 1, 2, 3], "format": "d", "title": "token dim d0"}}
      },
      "layer": [
        {"data": {"name": "elev_dense"}, "mark": {"type": "circle", "size": 220, "opacity": 0.3, "color": "#3a6ea8"}},
        {"data": {"name": "elev_sparse"}, "mark": {"type": "circle", "size": 20, "opacity": 0.35, "color": "#3a6ea8"}}
      ]
    }
  ]
}
